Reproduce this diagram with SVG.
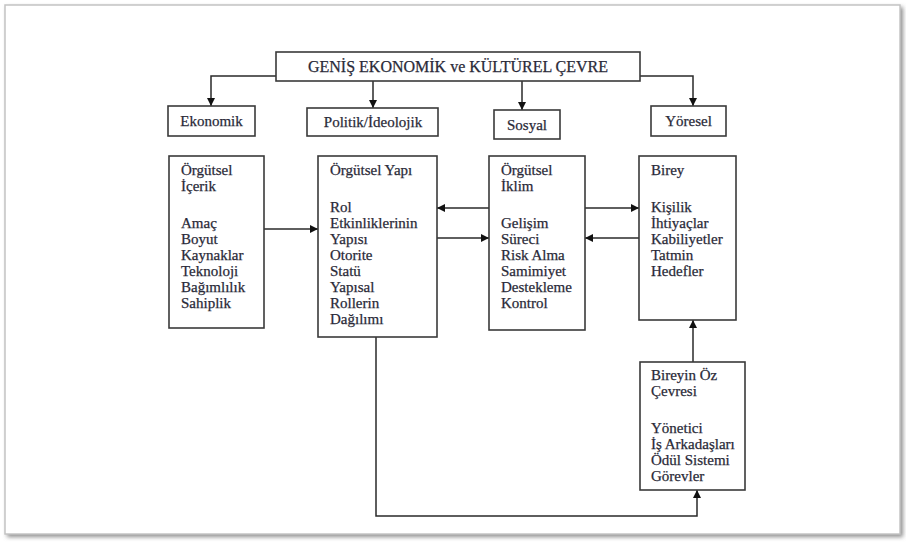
<svg xmlns="http://www.w3.org/2000/svg" width="906" height="542" viewBox="0 0 906 542">
<style>
.box{fill:#fff;stroke:#3a3a3a;stroke-width:1.6}
.t{font-family:"Liberation Serif","Times New Roman",serif;font-size:15px;fill:#2a2a38;stroke:#2a2a38;stroke-width:0.25}
.c{text-anchor:middle}
.ln{fill:none;stroke:#2a2a2a;stroke-width:1.5}
</style>
<defs>
<marker id="ah" markerUnits="userSpaceOnUse" markerWidth="9" markerHeight="8" refX="8" refY="4" orient="auto">
<path d="M0,0 L8,4 L0,8 z" fill="#111"/>
</marker>
<filter id="sh" x="-5%" y="-5%" width="110%" height="110%">
<feGaussianBlur stdDeviation="2"/>
</filter>
</defs>
<rect x="0" y="0" width="906" height="542" fill="#fff"/>
<rect x="7" y="7" width="896" height="530" fill="#8f8f8f" filter="url(#sh)"/>
<rect x="5" y="5" width="895" height="529" fill="#fff" stroke="#c4c4c4" stroke-width="1.5"/>

<g id="connectors">
<path class="ln" d="M276,76 H211 V106" marker-end="url(#ah)"/>
<path class="ln" d="M640,76 H693 V106" marker-end="url(#ah)"/>
<path class="ln" d="M373,81 V108" marker-end="url(#ah)"/>
<path class="ln" d="M522,81 V110" marker-end="url(#ah)"/>
<path class="ln" d="M264,229 H318" marker-end="url(#ah)"/>
<path class="ln" d="M489,208 H437" marker-end="url(#ah)"/>
<path class="ln" d="M437,238 H489" marker-end="url(#ah)"/>
<path class="ln" d="M585,208 H639" marker-end="url(#ah)"/>
<path class="ln" d="M639,238 H585" marker-end="url(#ah)"/>
<path class="ln" d="M693,362 V320" marker-end="url(#ah)"/>
<path class="ln" d="M376,337 V516 H697 V490" marker-end="url(#ah)"/>
</g>

<g id="genis">
<rect class="box" x="276" y="52" width="364" height="29"/>
<text class="t c" x="458" y="72" style="font-size:16px">GENİŞ EKONOMİK ve KÜLTÜREL ÇEVRE</text>
</g>
<g id="ekonomik">
<rect class="box" x="168" y="106" width="87" height="30"/>
<text class="t c" x="211.5" y="126">Ekonomik</text>
</g>
<g id="politik">
<rect class="box" x="307" y="108" width="131" height="28"/>
<text class="t c" x="373" y="127">Politik/İdeolojik</text>
</g>
<g id="sosyal">
<rect class="box" x="494" y="110" width="66" height="29"/>
<text class="t c" x="527" y="130">Sosyal</text>
</g>
<g id="yoresel">
<rect class="box" x="651" y="106" width="75" height="30"/>
<text class="t c" x="688.5" y="126">Yöresel</text>
</g>

<g id="icerik">
<rect class="box" x="169" y="156" width="95" height="172"/>
<text class="t" x="181">
<tspan x="181" y="175">Örgütsel</tspan>
<tspan x="181" y="191">İçerik</tspan>
<tspan x="181" y="228">Amaç</tspan>
<tspan x="181" y="244">Boyut</tspan>
<tspan x="181" y="260">Kaynaklar</tspan>
<tspan x="181" y="276">Teknoloji</tspan>
<tspan x="181" y="292">Bağımlılık</tspan>
<tspan x="181" y="308">Sahiplik</tspan>
</text>
</g>

<g id="yapi">
<rect class="box" x="318" y="156" width="119" height="181"/>
<text class="t" x="330">
<tspan x="330" y="175">Örgütsel Yapı</tspan>
<tspan x="330" y="212">Rol</tspan>
<tspan x="330" y="228">Etkinliklerinin</tspan>
<tspan x="330" y="244">Yapısı</tspan>
<tspan x="330" y="260">Otorite</tspan>
<tspan x="330" y="276">Statü</tspan>
<tspan x="330" y="292">Yapısal</tspan>
<tspan x="330" y="308">Rollerin</tspan>
<tspan x="330" y="324">Dağılımı</tspan>
</text>
</g>

<g id="iklim">
<rect class="box" x="489" y="156" width="96" height="174"/>
<text class="t" x="501">
<tspan x="501" y="175">Örgütsel</tspan>
<tspan x="501" y="191">İklim</tspan>
<tspan x="501" y="228">Gelişim</tspan>
<tspan x="501" y="244">Süreci</tspan>
<tspan x="501" y="260">Risk Alma</tspan>
<tspan x="501" y="276">Samimiyet</tspan>
<tspan x="501" y="292">Destekleme</tspan>
<tspan x="501" y="308">Kontrol</tspan>
</text>
</g>

<g id="birey">
<rect class="box" x="639" y="156" width="97" height="164"/>
<text class="t" x="651">
<tspan x="651" y="175">Birey</tspan>
<tspan x="651" y="212">Kişilik</tspan>
<tspan x="651" y="228">İhtiyaçlar</tspan>
<tspan x="651" y="244">Kabiliyetler</tspan>
<tspan x="651" y="260">Tatmin</tspan>
<tspan x="651" y="276">Hedefler</tspan>
</text>
</g>

<g id="ozcevre">
<rect class="box" x="640" y="362" width="105" height="128"/>
<text class="t" x="651">
<tspan x="651" y="380">Bireyin Öz</tspan>
<tspan x="651" y="396">Çevresi</tspan>
<tspan x="651" y="433">Yönetici</tspan>
<tspan x="651" y="449">İş Arkadaşları</tspan>
<tspan x="651" y="465">Ödül Sistemi</tspan>
<tspan x="651" y="481">Görevler</tspan>
</text>
</g>
</svg>
